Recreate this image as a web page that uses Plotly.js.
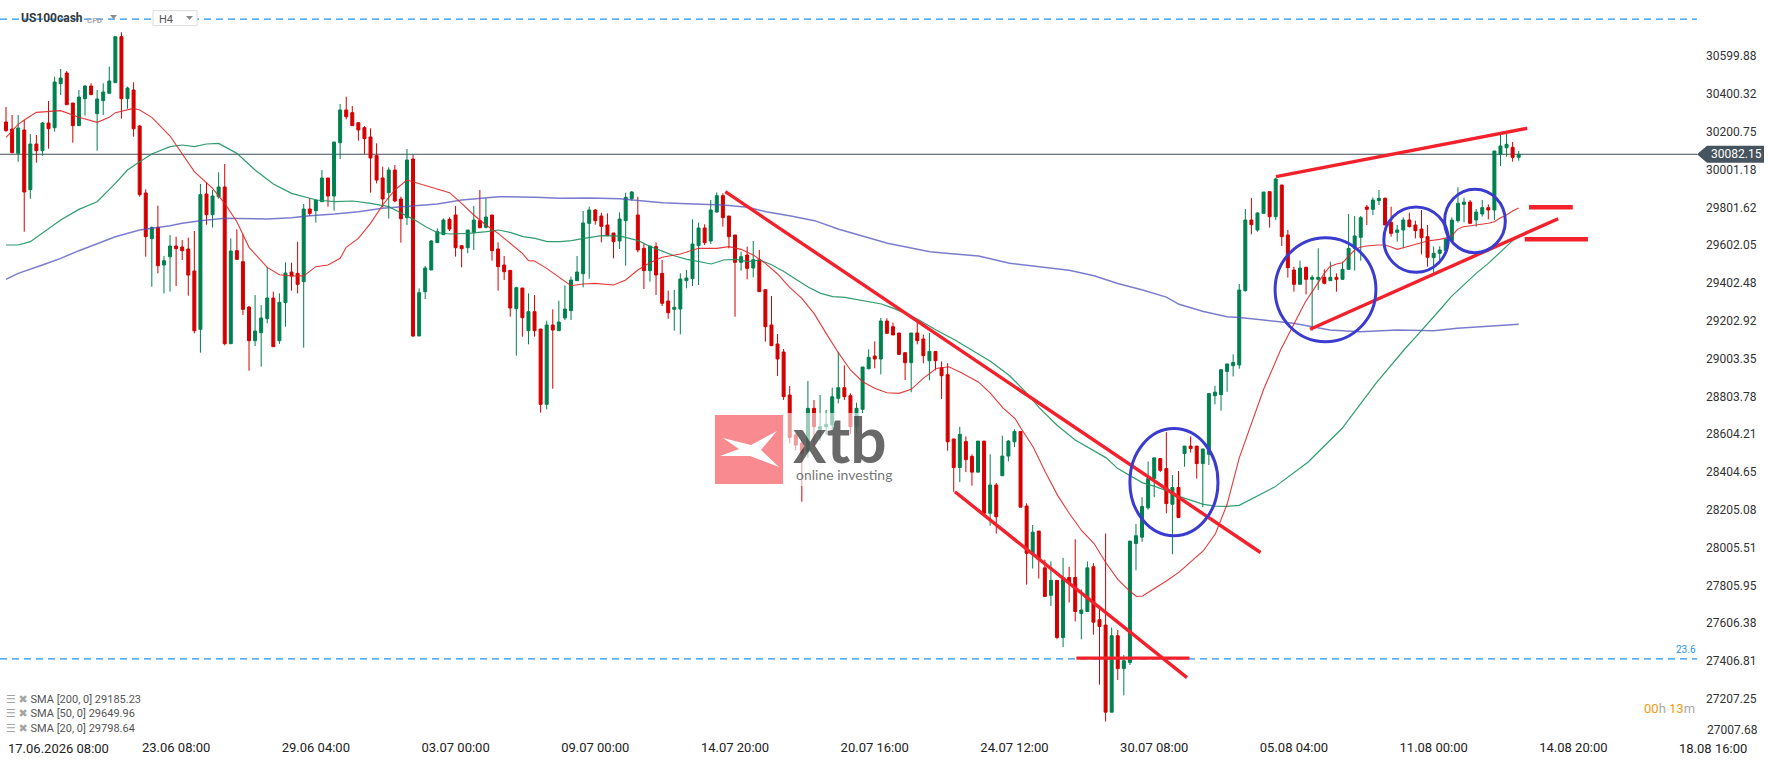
<!DOCTYPE html>
<html><head><meta charset="utf-8">
<script src="https://cdn.plot.ly/plotly-3.0.1.min.js"></script>
<style>html,body{margin:0;padding:0;background:#fff;}#chart{width:1768px;height:761px;}</style>
</head><body><div id="chart"></div>
<script>
// ---------- DATA ----------
const openP=[
30252.5,30215.5,30087.0,30210.2,29895.2,30136.3,30101.1,30247.2,30222.5,30454.8,
30511.2,30352.8,30233.1,30375.6,30442.5,30296.4,30365.1,30403.8,30460.1,30703.0,
30375.6,30421.4,30231.3,29877.6,29636.4,29696.3,29497.4,29541.4,29597.7,29592.4,
29581.9,29465.7,29157.7,29872.3,29763.2,29858.2,29909.2,29082.0,29573.1,29515.0,
29275.6,29097.9,29140.1,29214.1,29323.2,29097.9,29298.5,29460.4,29453.4,29409.4,
29793.1,29784.4,29831.9,29956.9,29861.8,30143.4,30315.9,30301.8,30249.0,30222.6,
30173.3,30074.8,29956.9,29879.4,29999.1,29846.0,29747.4,30057.2,29122.6,29356.7,
29471.1,29615.4,29657.7,29738.6,29761.5,29599.6,29589.0,29670.0,29731.6,29696.4,
29761.5,29582.0,29497.5,29469.3,29267.0,29376.0,29150.8,29251.1,29159.6,28761.8,
29180.7,29150.8,29217.7,29256.4,29414.8,29451.7,29717.5,29787.9,29756.2,29708.7,
29666.5,29624.2,29731.6,29847.7,29761.5,29585.5,29467.6,29594.3,29453.5,29307.4,
29263.4,29265.2,29414.8,29425.3,29599.6,29692.9,29624.2,29777.3,29863.6,29756.2,
29655.9,29511.6,29550.3,29481.7,29525.7,29367.3,29180.7,29080.4,29038.1,28811.1,
28600.0,28556.0,28512.0,28740.7,28630.0,28644.0,28653.0,28793.5,28849.8,28807.6,
28644.0,28735.4,28950.1,29017.0,29001.2,29201.8,29171.9,29138.5,29034.6,28981.8,
29138.5,29106.8,28992.2,29041.2,28956.3,28918.6,28579.2,28428.3,28566.0,28486.8,
28403.9,28567.9,28187.0,28336.0,28385.0,28488.7,28564.1,28618.8,28224.7,27975.8,
28092.8,27898.5,27753.3,27832.5,27530.9,27847.6,27847.6,27657.1,27668.4,27904.2,
27625.1,27596.8,27136.7,27540.2,27366.7,27398.8,28026.7,28060.7,28215.3,28369.9,
28475.5,28422.7,28234.2,28322.8,28501.9,28541.5,28541.5,28449.1,28498.1,28807.4,
28813.0,28935.6,28965.8,28969.6,29362.0,29735.1,29682.3,29770.3,29884.7,29752.7,
29919.9,29655.9,29471.1,29395.4,29485.2,29421.8,29421.8,29432.4,29414.8,29432.4,
29421.8,29474.6,29585.5,29643.6,29803.7,29791.4,29837.2,29849.5,29722.8,29669.9,
29682.3,29735.1,29708.7,29687.6,29647.1,29536.2,29559.1,29573.2,29626.0,29731.6,
29817.8,29830.1,29735.1,29766.8,29800.2,29787.9,30081.8,30117.0,30118.8,30066.0];
const highP=[
30331.6,30289.4,30289.4,30263.0,30189.1,30183.8,30252.4,30363.3,30491.8,30532.3,
30521.7,30352.8,30421.4,30447.8,30456.6,30421.4,30456.6,30544.6,30703.0,30725.9,
30439.0,30461.9,30236.6,29896.9,29699.8,29810.7,29544.9,29655.8,29647.0,29629.4,
29641.7,29677.0,29925.1,29933.9,29893.4,29986.7,30030.7,29638.2,29685.7,29659.3,
29280.9,29339.0,29286.2,29488.6,29356.6,29347.8,29511.5,29509.7,29620.6,29819.5,
29849.4,29840.7,29999.1,29956.9,30146.9,30347.6,30386.3,30337.0,30249.0,30231.4,
30219.1,30139.9,30016.7,30013.2,30025.5,29858.3,30110.0,30078.3,29374.3,29492.2,
29629.5,29691.1,29743.9,29749.2,29809.0,29599.6,29682.3,29809.0,29893.5,29849.5,
29761.5,29617.2,29545.0,29469.3,29383.1,29376.0,29347.9,29339.1,29159.6,29203.6,
29263.4,29309.2,29390.1,29435.9,29545.0,29782.6,29805.5,29793.2,29773.8,29770.3,
29666.5,29775.6,29879.4,29888.2,29858.3,29611.9,29597.8,29617.2,29523.9,29361.9,
29365.5,29453.5,29471.1,29738.6,29721.0,29712.2,29840.7,29881.2,29875.9,29756.2,
29655.9,29567.9,29594.3,29624.2,29576.7,29367.3,29333.8,29133.2,29054.0,28858.6,
28610.0,28580.0,28885.0,28784.7,28811.0,28732.0,28850.0,29039.9,28967.7,28820.0,
28770.6,28958.9,29052.2,29094.5,29217.7,29215.9,29193.0,29138.5,29034.6,29138.5,
29198.3,29129.8,29139.3,29041.2,28988.4,28979.0,28579.2,28643.3,28592.4,28498.1,
28567.9,28567.9,28498.1,28347.3,28596.2,28573.5,28630.1,28618.8,28239.8,28124.8,
28092.8,27941.9,27932.5,27832.5,27951.3,27904.2,28049.4,27785.4,27932.5,27923.0,
27687.3,28079.6,27583.6,27570.4,27438.4,28039.9,28130.5,28271.9,28460.4,28479.3,
28475.5,28615.0,28388.8,28409.5,28541.5,28592.4,28541.5,28526.4,28818.7,28860.2,
28945.0,28975.2,29026.1,29397.2,29793.2,29851.3,29775.6,29882.9,29884.7,29958.6,
29919.9,29682.3,29488.7,29520.4,29488.7,29444.7,29585.5,29474.6,29515.1,29453.5,
29515.1,29766.8,29756.2,29756.2,29814.3,29854.8,29893.5,29854.8,29805.5,29708.7,
29749.2,29773.8,29731.6,29787.9,29708.7,29594.3,29596.1,29638.3,29749.2,29907.6,
29853.0,29840.7,29793.2,29840.7,29817.8,30099.4,30192.7,30192.7,30147.0,30099.4];
const lowP=[
30201.4,30087.0,30043.0,29673.4,29847.6,30037.7,30074.7,30111.6,30201.4,30395.0,
30344.0,30143.3,30233.1,30285.9,30396.8,30101.1,30289.4,30403.8,30460.1,30270.0,
30322.8,30175.0,29858.2,29541.4,29383.0,29453.4,29347.8,29356.6,29386.5,29523.8,
29335.5,29136.6,29034.5,29710.4,29694.5,29847.6,29073.2,29082.0,29523.8,29233.4,
28939.5,29069.7,28960.6,29189.4,29066.2,29080.3,29171.8,29361.9,29347.8,29060.9,
29756.1,29721.0,29831.9,29805.5,29784.4,30057.2,30266.6,30233.2,30154.0,30083.6,
29879.4,29928.7,29802.0,29742.1,29828.4,29615.4,29708.7,29117.3,29122.6,29318.0,
29471.1,29615.4,29657.7,29677.0,29541.5,29485.2,29559.1,29576.7,29691.1,29691.1,
29520.4,29362.0,29418.3,29224.7,29018.8,29119.1,29078.6,29119.1,28717.8,28735.4,
28844.5,29150.8,29207.1,29207.1,29414.8,29379.6,29425.3,29710.5,29617.2,29652.4,
29532.7,29582.0,29494.0,29837.2,29564.4,29370.8,29409.5,29339.1,29281.0,29214.1,
29150.8,29131.4,29374.3,29386.6,29391.9,29603.1,29608.4,29773.8,29699.9,29585.5,
29224.7,29467.6,29421.8,29432.4,29356.7,29092.7,29069.8,28911.4,28784.7,28555.9,
28520.0,28248.0,28480.0,28538.0,28570.0,28600.0,28620.0,28767.1,28784.7,28605.0,
28610.0,28714.3,28946.6,28951.9,28920.2,29136.7,29128.0,29022.3,28890.3,28825.2,
29078.6,28978.3,28888.5,28941.3,28790.4,28517.0,28300.2,28351.1,28403.9,28332.2,
28403.9,28177.6,28121.0,28079.5,28385.0,28460.4,28535.9,28219.1,27810.0,27894.8,
27841.9,27747.7,27696.8,27521.4,27479.9,27715.6,27615.7,27521.4,27668.4,27545.9,
27281.9,27087.7,27136.7,27306.5,27225.4,27385.6,27885.3,28036.2,28205.9,28271.9,
28403.9,28187.0,27970.2,28164.4,28432.2,28507.6,28369.9,28219.1,28441.6,28762.1,
28728.2,28828.1,28909.2,28950.0,29356.7,29659.4,29673.5,29770.3,29694.6,29735.1,
29597.8,29430.6,29356.7,29395.4,29342.6,29150.8,29365.5,29395.4,29414.8,29356.7,
29421.8,29471.1,29467.6,29520.4,29708.7,29761.5,29814.3,29708.7,29647.1,29620.7,
29585.5,29696.4,29638.3,29553.8,29488.7,29457.0,29523.9,29559.1,29626.0,29721.0,
29722.8,29714.0,29699.9,29752.7,29738.6,29735.1,30020.2,30069.5,30043.1,30048.4];
const closeP=[
30206.7,30090.5,30220.8,29882.8,30136.3,30101.1,30247.2,30217.3,30463.6,30484.8,
30344.0,30233.1,30384.4,30442.5,30396.8,30373.9,30410.8,30468.9,30703.0,30375.6,
30432.0,30217.2,29868.8,29647.0,29696.3,29493.9,29520.3,29597.7,29583.6,29573.1,
29444.6,29150.7,29868.8,29763.2,29861.7,29909.2,29082.0,29571.3,29527.3,29263.3,
29097.9,29148.9,29217.6,29323.2,29066.2,29300.3,29455.2,29439.3,29395.3,29793.1,
29770.2,29840.7,29956.9,29861.8,30146.9,30315.9,30280.7,30233.2,30210.3,30164.5,
30062.5,29946.3,29846.0,29999.1,29835.4,29742.1,30051.9,29122.6,29351.4,29481.7,
29624.2,29673.5,29735.1,29687.6,29589.0,29583.7,29682.3,29735.1,29694.6,29750.9,
29573.2,29488.7,29462.3,29270.5,29377.8,29219.4,29251.1,29150.8,28761.8,29180.7,
29154.3,29196.5,29265.2,29418.3,29460.5,29719.3,29787.9,29731.6,29701.7,29652.4,
29620.7,29740.4,29854.8,29882.9,29576.7,29467.6,29597.8,29444.7,29295.1,29245.8,
29274.0,29423.6,29428.9,29608.4,29692.9,29615.4,29787.9,29863.6,29747.4,29647.1,
29511.6,29541.5,29479.9,29525.7,29356.7,29171.9,29071.6,29001.2,28802.3,28587.6,
28547.1,28503.0,28740.7,28644.0,28644.0,28656.0,28802.0,28849.8,28802.3,28644.0,
28740.7,28958.9,29010.0,29001.2,29201.8,29136.7,29128.0,29025.8,28981.8,29138.5,
29098.0,29018.8,29041.2,28992.2,28913.0,28564.1,28428.3,28603.7,28469.9,28403.9,
28567.9,28187.0,28336.0,28168.2,28488.7,28567.9,28618.8,28219.1,27975.8,28087.1,
27941.9,27747.7,27832.5,27530.9,27847.6,27819.3,27668.4,27675.9,27898.5,27611.9,
27589.3,27136.7,27540.2,27366.7,27408.2,28039.9,28068.2,28222.8,28369.9,28479.3,
28413.3,28238.0,28322.8,28164.4,28541.5,28528.3,28449.1,28526.4,28818.7,28826.3,
28945.0,28975.2,28982.8,29365.5,29735.1,29710.5,29772.1,29882.9,29752.7,29951.6,
29647.1,29483.4,29395.4,29481.7,29421.8,29432.4,29432.4,29400.7,29432.4,29421.8,
29474.6,29585.5,29650.6,29747.4,29791.4,29840.7,29849.5,29708.7,29664.7,29682.3,
29735.1,29699.9,29678.8,29641.8,29537.9,29559.1,29576.7,29633.0,29735.1,29823.1,
29830.1,29717.5,29777.3,29800.2,29787.9,30099.4,30125.8,30134.6,30066.0,30082.15];

// moving averages (bar index, value)
const sma20X=[0,2,3,5,9,12,15,17,18,20,21,22,24,27,29,31,34,36,38,40,43,45,47,49,51,53,55,56,58,60,62,64,66,68,70,73,75,77,79,81,83,85,86,87,89,91,93,95,97,100,102,104,106,108,111,114,117,119,121,123,125,127,129,131,133,135,137,139,141,143,145,147,149,151,153.1,155.2,157.1,160.1,162.1,164.1,166.1,167.1,169.1,171.1,173.1,175,177.1,179.1,181.1,183,185.1,186.1,187.1,189.1,191,193.1,195.1,197.1,199.1,201,203,205,207,209.8,210.9,211.9,212.9,213.9,214.9,215.9,217,217.9,219,220,221,222,222.9,223.9,225.9,227,227.9,229,230,232,234,236,237.9,238.9,239.9,242,244,245,246,247,248,249];
const sma20Y=[30171.5,30240.1,30263,30303.5,30312.3,30277.1,30250.7,30277.1,30301.7,30315.8,30324.6,30315.8,30277.1,30178.5,30087,29990.2,29902.2,29823,29726.2,29590.7,29485.1,29446.4,29439.3,29440,29488.7,29497.5,29532.7,29590.8,29638.3,29717.5,29814.3,29893.5,29946.3,29928.7,29907.6,29879.4,29823.1,29761.5,29708.7,29664.7,29611.9,29559.1,29520.4,29518.6,29479.9,29435.9,29388.4,29397.2,29400.7,29391.9,29418.3,29471.1,29509.8,29538,29555.6,29585.5,29585.5,29594.3,29580.2,29550.3,29506.3,29450,29379.6,29321.5,29242.3,29136.7,29034.6,28943.1,28881.5,28846.3,28823.4,28819.9,28841,28899.1,28950.7,28960.1,28931.8,28879,28818.7,28743.3,28686.7,28633.9,28535.8,28403.8,28281.3,28187,28093.2,28026.8,27923.1,27838.2,27772.2,27747.7,27749.6,27791.1,27828.8,27876,27932.5,27989.1,28079.6,28234.2,28479.4,28660,28840,29048.7,29119.1,29175.4,29242.3,29303.9,29351.4,29400.7,29453.5,29488.7,29502.8,29509.8,29541.5,29576.7,29590.8,29597.8,29603.1,29603.1,29594.3,29580.2,29589,29608.4,29624.2,29633,29647.1,29685.8,29699.9,29708.7,29717.5,29726.3,29747.4,29761.5,29782.6,29798.6];
const sma50X=[0,2,4,7,9,12,15,18,20,22,24,27,29,31,33,35,38,41,44,47,51.1,54.1,57.1,60,63,65.1,67.1,69.1,71,73,76.2,79.1,81.1,83.1,85.1,87.1,89.1,91.2,93.1,95.1,98.1,101.1,104.1,106.1,108.1,110.1,112.1,114.1,116.1,118.1,120.1,122.1,124.1,126.1,128.1,130.2,132.1,134.1,136.1,138.1,140.1,142.1,144.1,146.1,148.1,150.3,153.1,156.2,159.1,162.1,165.2,168.1,170.1,173.1,176,179.1,181.1,183,185.1,187.1,189.1,191,193.1,195.1,197.1,199.1,201,203,208.8,214.3,219.9,225.5,230.1,232.1,234,236,237.9,239.9,242,244,246,248,249];
const sma50Y=[29603,29603,29620.6,29691,29735,29791.3,29831.8,29928.6,29999,30043,30083.5,30122.2,30131,30122.2,30136.3,30139.8,30087,29999,29925.1,29875.8,29840.7,29831.9,29835.4,29823.1,29805.5,29770.3,29738.6,29699.9,29668.2,29661.2,29664.7,29673.5,29682.3,29668.2,29647.1,29638.3,29620.7,29620.7,29626,29638.3,29652.4,29650,29626,29594.3,29567.9,29545,29527.4,29515.1,29502.8,29523.9,29527.4,29515.1,29523.9,29497.5,29462.3,29418.3,29379.6,29347.9,29330.3,29326.8,29316.2,29303.9,29291.6,29268.7,29242.3,29207,29154.4,29101.5,29045,28988.4,28913,28818.7,28743.3,28649,28573.6,28517,28479.3,28422.7,28385,28347.3,28328.4,28305.8,28275.6,28253,28234.2,28224.7,28222.8,28228.5,28324.9,28455.9,28634.3,28872.4,29048.7,29119.1,29186,29259.9,29330.3,29391.9,29453.5,29506.3,29567.9,29626,29650];
const sma200X=[0,2,6,9,12,15,18,22,24,27,29,32,36,40,43,47,50,54.1,58,62,66.1,71,75,79.1,81.1,87.1,91.2,96.1,101.1,103.1,108.1,113.1,118.1,122.1,125.1,129.2,133.1,137.1,141.1,145.1,149.2,152.1,155.2,160.1,165.2,170.1,175,179.1,183,187.1,191,193.1,197.1,201,203,207,211.9,217.9,222.9,229,235,238.9,244,249];
const sma200Y=[29421.7,29453.4,29497.4,29532.6,29573.1,29611.8,29647,29682.2,29691,29705.1,29717.4,29731.5,29743.8,29743.8,29740.3,29747.3,29757.9,29766.8,29779.1,29796.7,29805.5,29819.6,29840.7,29854.8,29858.3,29854.8,29849.5,29851.3,29847.7,29840.7,29826.6,29819.6,29814.3,29802,29779.1,29756.2,29731.6,29686,29650.6,29612,29585.5,29567.9,29557.9,29544.7,29506.9,29488.1,29469.2,29440.9,29399.5,29365.5,29327.8,29290.1,29252.4,29224.1,29220.4,29207.1,29189.5,29154.3,29145.5,29154.3,29150.8,29163.1,29175.4,29185.2];

const smaNames=['SMA [200, 0]','SMA [50, 0]','SMA [20, 0]'];
const smaLast=[29185.23,29649.96,29798.64];

const yTickVals=[27007.68,27207.25,27406.81,27606.38,27805.95,28005.51,28205.08,28404.65,28604.21,28803.78,29003.35,29202.92,29402.48,29602.05,29801.62,30001.18,30200.75,30400.32,30599.88];
const xTickIdx=[4,28,51,74,97,120,143,166,189,212,235,258,281];
const xTickText=['17.06.2026 08:00','23.06 08:00','29.06 04:00','03.07 00:00','09.07 00:00','14.07 20:00','20.07 16:00','24.07 12:00','30.07 08:00','05.08 04:00','11.08 00:00','14.08 20:00','18.08 16:00'];

const symbol='US100cash', timeframe='H4', fibLabel='23.6', countdown=['00','h ','13','m'];
const fibLevel=27418, topLevel=30796;

// ---------- LAYOUT ----------
const W=1768,H=761,PW=1697,PH=738;
const xMin=-0.99,xMax=278.35,yMin=27000.3,yMax=30896.6;
const px=x=>x/PW, py=y=>1-y/PH;
const ypix=v=>PH*(yMax-v)/(yMax-yMin);
const xpix=i=>PW*(i-xMin)/(xMax-xMin);
const RED='#f3212b', BLUE='#3b3bcf';
const idxArr=openP.map((_,i)=>i);
const lastClose=closeP[closeP.length-1];

const traces=[
 {type:'candlestick',x:idxArr,open:openP,high:highP,low:lowP,close:closeP,
  increasing:{line:{color:'#00804f',width:1},fillcolor:'#00804f'},
  decreasing:{line:{color:'#d40000',width:1},fillcolor:'#d40000'},
  hoverinfo:'skip',showlegend:false},
 {type:'scatter',mode:'lines',x:sma200X,y:sma200Y,line:{color:'rgba(80,80,190,0.75)',width:1.5},hoverinfo:'skip',showlegend:false},
 {type:'scatter',mode:'lines',x:sma50X,y:sma50Y,line:{color:'rgba(25,145,95,0.9)',width:1.2},hoverinfo:'skip',showlegend:false},
 {type:'scatter',mode:'lines',x:sma20X,y:sma20Y,line:{color:'rgba(225,35,35,0.9)',width:1.1},hoverinfo:'skip',showlegend:false}
];

// ticks inside the plotted range go on the axis, the edge ones become annotations
const inTicks=xTickIdx.map((v,k)=>[v,xTickText[k]]).filter(([v],k)=>k>0 && v<=xMax);
const yIn=yTickVals.slice(1);

const shapes=[];
const ann=[];
const fnt=(s,c,f,w)=>{const o={family:f||'Roboto, DejaVu Sans, sans-serif',size:s,color:c}; if(w) o.weight=w; return o;};

// reference lines
shapes.push({type:'line',xref:'paper',x0:0,x1:1,yref:'y',y0:topLevel,y1:topLevel,layer:'below',line:{color:'#2196f3',width:1.3,dash:'7px,5px'}});
shapes.push({type:'line',xref:'paper',x0:0,x1:1,yref:'y',y0:fibLevel,y1:fibLevel,layer:'below',line:{color:'#2196f3',width:1.3,dash:'7px,5px'}});
shapes.push({type:'line',xref:'paper',x0:0,x1:1,yref:'y',y0:lastClose,y1:lastClose,layer:'below',line:{color:'#3e4c57',width:1.2}});

// drawn analysis: trend lines
const seg=(x0,y0,x1,y1,w)=>shapes.push({type:'line',xref:'x',yref:'y',x0,y0,x1,y1,layer:'above',line:{color:RED,width:w||3.4}});
seg(118.4,29884.5,206.5,27979.6);
seg(156.2,28300.6,194.4,27319.2);
seg(176.2,27422,194.8,27422);
seg(209.05,29963.7,250.4,30219.3);
seg(214.65,29158.0,255.5,29742.0);
seg(250.7,29802.1,257.9,29802.1,4.5);
seg(250.0,29633.2,260.4,29633.2,4.5);
// circles
const circ=(x0,y0,x1,y1)=>shapes.push({type:'circle',xref:'x',yref:'y',x0,y0,x1,y1,layer:'above',line:{color:BLUE,width:3}});
circ(185.0,28068.3,199.5,28633.8);
circ(208.9,29092.6,225.5,29641.6);
circ(226.8,29459.0,237.4,29803.7);
circ(236.8,29562.5,246.8,29897.2);

// watermark logo (pixel positions)
const rectPx=(x0,y0,x1,y1,fill,layer)=>shapes.push({type:'rect',xref:'paper',yref:'paper',x0:px(x0),x1:px(x1),y0:py(y1),y1:py(y0),layer:layer||'above',fillcolor:fill,line:{width:0}});
const pathPx=(pts,fill,line)=>shapes.push({type:'path',xref:'paper',yref:'paper',layer:'above',fillcolor:fill,line:line||{width:0},
  path:'M'+pts.map(p=>px(p[0])+','+py(p[1])).join(' L')+' Z'});
rectPx(712,413,902,486,'rgba(255,255,255,0.6)');
rectPx(715,415,783,484,'#f98a90');
const bx=715,by=415;
pathPx([[8,23],[36,30],[62,16],[46,35],[64,52],[35,41],[5,41],[24,34]].map(p=>[bx+p[0],by+p[1]]),'#ffffff');
ann.push({xref:'paper',yref:'paper',x:px(791),y:py(439),xanchor:'left',yanchor:'middle',showarrow:false,text:'<b>xtb</b>',font:fnt(64,'rgba(55,55,55,0.75)','Lato, Inter, sans-serif','bold')});
ann.push({xref:'paper',yref:'paper',x:px(794),y:py(474),xanchor:'left',yanchor:'middle',showarrow:false,text:'online investing',font:fnt(14,'rgba(90,90,90,0.85)','Lato, Inter, sans-serif')});

// price box on the axis
const yP=ypix(lastClose);
pathPx([[1697,yP],[1707,yP-8.5],[1764,yP-8.5],[1764,yP+8.5],[1707,yP+8.5]],'#46545f');
ann.push({xref:'paper',yref:'paper',x:px(1709),y:py(yP),xanchor:'left',yanchor:'middle',showarrow:false,text:lastClose.toFixed(2),font:fnt(12,'#ffffff')});
// lowest price label sits slightly raised at the bottom edge
ann.push({xref:'paper',yref:'paper',x:px(1705),y:py(730),xanchor:'left',yanchor:'middle',showarrow:false,text:yTickVals[0].toFixed(2),font:fnt(12,'#333')});

// fib label
ann.push({xref:'paper',yref:'paper',x:px(1698),y:py(649),xanchor:'right',yanchor:'middle',showarrow:false,text:fibLabel,font:fnt(10,'#2196f3')});

// header
ann.push({xref:'paper',yref:'paper',x:px(19),y:py(18),xanchor:'left',yanchor:'middle',showarrow:false,text:'<b>'+symbol+'</b>',font:fnt(12,'#333a40')});
ann.push({xref:'paper',yref:'paper',x:px(85),y:py(20),xanchor:'left',yanchor:'middle',showarrow:false,text:'<b>CFD</b>',font:fnt(8,'#a8a8a8')});
pathPx([[110,15],[117,15],[113.5,19]],'#8a8a8a');
rectPx(153,10.7,197,25.7,'#ffffff');
shapes.push({type:'rect',xref:'paper',yref:'paper',x0:px(153),x1:px(197),y0:py(25.7),y1:py(10.7),layer:'above',line:{color:'#dcdcdc',width:1},fillcolor:'rgba(0,0,0,0)'});
ann.push({xref:'paper',yref:'paper',x:px(157),y:py(19.5),xanchor:'left',yanchor:'middle',showarrow:false,text:timeframe,font:fnt(11,'#555')});
pathPx([[186,16],[193,16],[189.5,20]],'#8a8a8a');

// indicator legend rows
smaNames.forEach((n,k)=>{
  ann.push({xref:'paper',yref:'paper',x:px(4),y:py(699+k*14.5),xanchor:'left',yanchor:'middle',showarrow:false,
    text:'<span style="color:#a5a5a5">☰ ✖</span> '+n+' '+smaLast[k].toFixed(2),font:fnt(11,'#555')});
});

// edge time labels
ann.push({xref:'paper',yref:'paper',x:px(6),y:0,xanchor:'left',yanchor:'top',yshift:-1,showarrow:false,text:xTickText[0],font:fnt(13,'#222')});
ann.push({xref:'paper',yref:'paper',x:px(xpix(xTickIdx[xTickIdx.length-1])),y:0,xanchor:'center',yanchor:'top',yshift:-1,showarrow:false,text:xTickText[xTickText.length-1],font:fnt(13,'#222')});

// countdown
ann.push({xref:'paper',yref:'paper',x:px(1697),y:py(708),xanchor:'right',yanchor:'middle',showarrow:false,
  text:'<span style="color:#f39c12">'+countdown[0]+'</span><span style="color:#aaaaaa">'+countdown[1]+'</span><span style="color:#f39c12">'+countdown[2]+'</span><span style="color:#aaaaaa">'+countdown[3]+'</span>',font:fnt(13,'#f39c12')});

const layout={
  width:W,height:H,margin:{l:0,r:W-PW,t:0,b:H-PH},
  paper_bgcolor:'#ffffff',plot_bgcolor:'#ffffff',showlegend:false,
  xaxis:{range:[xMin,xMax],showgrid:false,zeroline:false,showline:false,ticks:'',
    tickvals:inTicks.map(t=>t[0]),ticktext:inTicks.map(t=>t[1]),tickfont:fnt(13,'#222'),
    rangeslider:{visible:false},fixedrange:true},
  yaxis:{range:[yMin,yMax],side:'right',showgrid:false,zeroline:false,showline:false,ticks:'',
    tickvals:yIn,ticktext:yIn.map(v=>v.toFixed(2)),tickfont:fnt(12,'#333'),ticklabelstandoff:8,fixedrange:true},
  shapes:shapes,annotations:ann,hovermode:false
};
Plotly.newPlot('chart',traces,layout,{staticPlot:true,displayModeBar:false});
</script></body></html>
